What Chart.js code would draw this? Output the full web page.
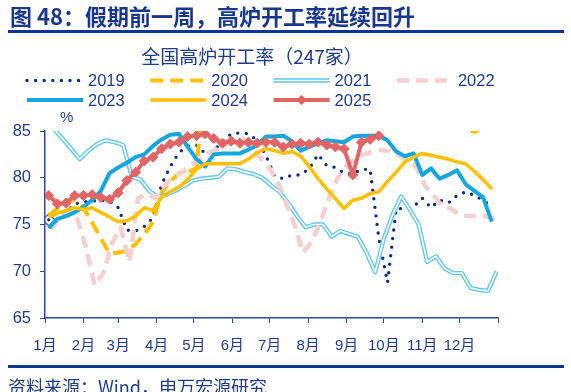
<!DOCTYPE html>
<html>
<head>
<meta charset="utf-8">
<script src="https://cdn.jsdelivr.net/npm/chart.js@4.4.1/dist/chart.umd.min.js"></script>
<style>
    body { margin: 0; width: 571px; height: 392px; overflow: hidden; background: #fff; }
    #chartBox { position: absolute; left: 0; top: 0; width: 571px; height: 392px; }
    #headTitle { position: absolute; left: 10px; top: -1px; font: bold 22px/32px "Noto Sans CJK SC", sans-serif; color: #17388e; white-space: nowrap; }
    .rule { position: absolute; left: 8px; width: 556px; height: 3px; background: #0e3592; }
    #footNote { position: absolute; left: 8px; top: 374px; font: 18px/24px "Noto Sans CJK SC", sans-serif; color: #1f3d8f; white-space: nowrap; }
</style>
</head>
<body>
<div id="chartBox"><canvas id="furnaceChart" width="571" height="392"></canvas></div>
<div id="headTitle">图 48：假期前一周，高炉开工率延续回升</div>
<div class="rule" style="top:30px"></div>
<div class="rule" style="top:365px"></div>
<div id="footNote">资料来源：Wind，申万宏源研究</div>
<script>
// weekly readings, % (247 blast furnaces)
const monthLabels = ['1月', '2月', '3月', '4月', '5月', '6月', '7月', '8月', '9月', '10月', '11月', '12月'];
const monthStartDays = [0, 31, 59, 90, 120, 151, 181, 212, 243, 273, 304, 334, 365];

const rate2019 = [75.5, 75.6, 76.3, 77.2, 77.4, 77.5, 77.6, 77.5, 76.8, 74.4, 74.3, 74.8, 75.7, 79.3, 81.2, 82.7, 83.4, 83.5, 82.6, 82.9,
    83.9, 84.7, 84.8, 84.7, 84.0, 82.4, 80.2, 79.9, 80.3, 80.3, 81.0, 82.5, 81.3, 81.1, 80.5, 80.4, 80.9, 80.9, 73.5, 68.8,
    76.7, 76.7, 76.9, 77.8, 76.8, 77.6, 77.3, 78.1, 78.5, 78.1, 77.6, 76.9];
const rate2020 = [75.9, 76.7, 77.6, 77.6, 76.8, 75.2, 73.5, 71.9, 72.0, 72.2, 72.9, 73.9, 75.3, 78.4, 79.6, 80.5, 80.6, 81.0, 90.5, 90.8,
    91.2, 91.5, 91.6, 91.8, 92.0, 92.2, 92.4, 92.5, 92.3, 92.0, 91.8, 91.5, 91.2, 91.0, 90.6, 90.4, 90.2, 90.0, 89.7, 89.4,
    89.0, 88.6, 88.0, 87.6, 87.2, 86.8, 86.5, 86.2, 85.3, 84.9, 85.4, 86.0];
const rate2021 = [86.5, 85.2, 84.2, 83.1, 82.0, 82.9, 83.6, 84.0, 83.8, 83.5, 80.1, 79.8, 78.6, 77.9, 78.2, 78.6, 79.1, 79.7, 79.9, 80.0,
    80.1, 81.0, 80.9, 80.6, 80.4, 80.0, 79.2, 78.5, 77.3, 75.9, 74.7, 75.0, 75.0, 73.7, 74.3, 74.0, 73.7, 72.0, 69.9, 73.5,
    76.0, 78.0, 76.6, 75.0, 71.0, 71.6, 70.3, 69.8, 69.8, 68.2, 68.0, 67.9, 70.0];
const rate2022 = [74.5, 75.8, 76.6, 75.6, 72.6, 68.5, 69.8, 73.0, 74.7, 71.0, 77.8, 78.3, 77.8, 79.1, 80.1, 80.5, 81.3, 81.9, 82.6, 83.0,
    83.5, 84.0, 84.2, 83.5, 82.2, 81.2, 79.7, 77.4, 75.0, 72.0, 73.2, 75.3, 77.9, 80.0, 81.3, 82.0, 82.5, 82.8, 83.0, 82.8,
    82.4, 81.9, 81.2, 79.2, 78.1, 77.0, 76.7, 76.0, 75.9, 75.9, 75.9, 75.5];
const rate2023 = [74.6, 75.6, 75.9, 76.3, 76.9, 77.6, 78.6, 80.5, 81.1, 81.6, 82.2, 82.5, 83.4, 84.1, 84.6, 84.7, 83.3, 82.0, 81.2, 82.5,
    82.6, 82.6, 82.6, 83.0, 83.5, 84.4, 84.4, 84.5, 83.9, 82.9, 83.3, 83.7, 84.0, 83.9, 83.8, 84.4, 84.5, 84.5, 84.5, 84.0,
    82.8, 82.3, 82.6, 80.3, 81.0, 79.9, 80.3, 80.8, 79.3, 78.6, 77.9, 75.3];
const rate2024 = [75.8, 76.2, 76.5, 76.8, 76.6, 76.8, 76.3, 75.8, 75.3, 75.4, 75.9, 76.8, 76.5, 77.9, 78.5, 79.0, 79.8, 80.9, 81.5, 81.5,
    81.5, 81.5, 81.5, 82.0, 82.7, 83.1, 82.9, 82.6, 82.8, 82.3, 81.2, 79.9, 78.8, 77.8, 76.7, 77.6, 77.8, 78.3, 78.5, 79.6,
    80.6, 81.7, 82.2, 82.6, 82.4, 82.2, 82.0, 81.7, 81.5, 80.7, 79.8, 78.8];
const rate2025 = [78.1, 77.2, 77.3, 78.1, 78.1, 78.2, 77.9, 77.7, 78.4, 79.7, 80.6, 81.8, 82.2, 83.1, 83.6, 83.8, 84.4, 84.5, 84.7, 84.2,
    83.7, 83.9, 83.7, 83.8, 83.7, 83.8, 83.8, 83.3, 83.6, 83.7, 83.6, 83.8, 83.5, 83.3, 83.1, 80.3, 83.8, 84.1, 84.5];

// day of year of each series' first weekly reading
const firstDay = { 2019: 3, 2020: 3, 2021: 0, 2022: 5, 2023: 3, 2024: 3, 2025: 3 };

const NAVY = '#1f3d8f';

function toPoints(values, startDay) {
    return values.map((v, i) => ({ x: startDay + 7 * i, y: v }));
}

const datasets = [
    {
        legendKey: '2019', data: toPoints(rate2019, firstDay[2019]), order: 7,
        borderColor: '#0d2c84', borderWidth: 3.4, borderDash: [0, 8.6], borderCapStyle: 'round',
        pointRadius: (c) => c.dataIndex === 0 ? 6 : 0, pointStyle: 'rectRot',
        pointBorderColor: '#4d6d9c', pointBackgroundColor: 'rgba(255,255,255,0)', pointBorderWidth: 1.5
    },
    {
        legendKey: '2020', data: toPoints(rate2020, firstDay[2020]), order: 6, clip: 0,
        borderColor: '#ffc000', borderWidth: 4, borderDash: [13, 7], pointRadius: 0
    },
    {
        legendKey: '2021', data: toPoints(rate2021, firstDay[2021]), order: 5, clip: 0,
        borderColor: '#62c9f4', borderWidth: 4.4, pointRadius: 0
    },
    {
        legendKey: '2021', data: toPoints(rate2021, firstDay[2021]), order: 4, clip: 0,
        borderColor: '#ffffff', borderWidth: 1.6, pointRadius: 0
    },
    {
        legendKey: '2022', data: toPoints(rate2022, firstDay[2022]), order: 3,
        borderColor: '#f7cfd1', borderWidth: 4.5, borderDash: [12, 7], pointRadius: 0
    },
    {
        legendKey: '2023', data: toPoints(rate2023, firstDay[2023]), order: 2,
        borderColor: '#13a6e1', borderWidth: 4, pointRadius: 0
    },
    {
        legendKey: '2024', data: toPoints(rate2024, firstDay[2024]), order: 1,
        borderColor: '#ffc000', borderWidth: 3.5, pointRadius: 0
    },
    {
        legendKey: '2025', data: toPoints(rate2025, firstDay[2025]), order: 0,
        borderColor: '#e36464', borderWidth: 4, pointStyle: 'rectRot', pointRadius: 5,
        pointBackgroundColor: '#e36464', pointBorderColor: '#e36464', pointBorderWidth: 1
    }
];

// title, "%" unit and the two-row legend
const legendGrid = {
    id: 'legendGrid',
    afterDraw(chart) {
        const ctx = chart.ctx;
        ctx.save();
        ctx.fillStyle = NAVY;
        ctx.textBaseline = 'middle';
        ctx.textAlign = 'center';
        ctx.font = '19px "Noto Sans CJK SC"';
        ctx.fillText('全国高炉开工率（247家）', 252, 57);
        ctx.textAlign = 'left';
        ctx.font = '15px "Liberation Sans"';
        ctx.fillText('%', 60, 118);

        const keys = [];
        chart.data.datasets.forEach(ds => {
            const isNew = !keys.includes(ds.legendKey);
            if (isNew) keys.push(ds.legendKey);
            const idx = keys.indexOf(ds.legendKey);
            const x = 27 + 123.3 * (idx % 4);
            const y = 80.5 + 19.5 * Math.floor(idx / 4);
            ctx.save();
            ctx.strokeStyle = ds.borderColor;
            ctx.lineWidth = ds.borderWidth;
            ctx.setLineDash(ds.borderDash || []);
            ctx.lineCap = ds.borderCapStyle || 'butt';
            ctx.beginPath();
            ctx.moveTo(x, y);
            ctx.lineTo(x + 56, y);
            ctx.stroke();
            if (ds.legendKey === '2025') {
                ctx.fillStyle = ds.borderColor;
                ctx.beginPath();
                ctx.moveTo(x + 28, y - 5);
                ctx.lineTo(x + 33, y);
                ctx.lineTo(x + 28, y + 5);
                ctx.lineTo(x + 23, y);
                ctx.closePath();
                ctx.fill();
            }
            ctx.restore();
            if (isNew) {
                ctx.fillStyle = NAVY;
                ctx.font = '16.5px "Liberation Sans"';
                ctx.fillText(ds.legendKey, x + 61, y + 1);
            }
        });
        ctx.restore();
    }
};

const axisGrid = {
    display: true,
    drawOnChartArea: false,
    drawTicks: true,
    tickLength: 5,
    color: '#2a4b9b'
};

new Chart(document.getElementById('furnaceChart'), {
    type: 'line',
    data: { datasets: datasets },
    options: {
        responsive: false,
        animation: false,
        layout: { padding: { top: 131, right: 73, left: 0, bottom: 0 } },
        elements: { line: { tension: 0, borderJoinStyle: 'round' } },
        plugins: {
            legend: { display: false },
            tooltip: { enabled: false }
        },
        scales: {
            x: {
                type: 'linear',
                min: 0,
                max: 365,
                afterBuildTicks: (scale) => {
                    scale.ticks = monthStartDays.map(v => ({ value: v }));
                },
                afterFit: (scale) => { scale.height = 74; },
                grid: axisGrid,
                border: { display: true, color: '#2a4b9b', width: 1.5 },
                ticks: {
                    autoSkip: false,
                    maxRotation: 0,
                    padding: 14,
                    color: NAVY,
                    font: { size: 15, family: '"Liberation Sans", "Noto Sans CJK SC"' },
                    callback: (value, index) => monthLabels[index] || ''
                }
            },
            y: {
                min: 65,
                max: 85,
                afterFit: (scale) => { scale.width = 45; },
                grid: axisGrid,
                border: { display: true, color: '#2a4b9b', width: 1.5 },
                ticks: {
                    stepSize: 5,
                    padding: 9,
                    color: NAVY,
                    font: { size: 16.5, family: '"Liberation Sans"' }
                }
            }
        }
    },
    plugins: [legendGrid]
});
</script>
</body>
</html>
